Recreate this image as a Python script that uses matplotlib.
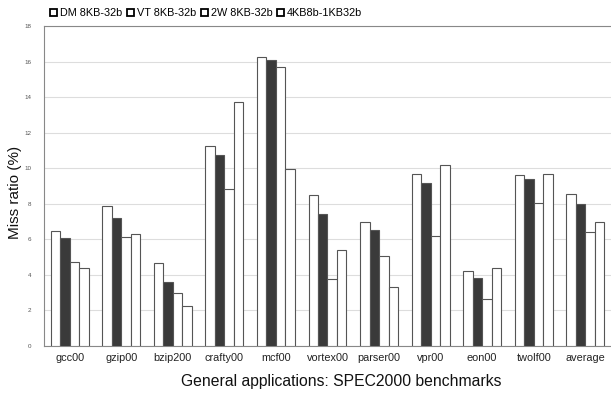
import matplotlib
matplotlib.use("Agg")
import matplotlib.pyplot as plt
import numpy as np
from matplotlib.patches import Patch

plt.rcParams['font.family'] = ['Liberation Sans', 'DejaVu Sans']

benchmarks = ["gcc00", "gzip00", "bzip200", "crafty00", "mcf00", "vortex00",
              "parser00", "vpr00", "eon00", "twolf00", "average"]
series_names = ["DM 8KB-32b", "VT 8KB-32b", "2W 8KB-32b", "4KB8b-1KB32b"]
dm = [6.47, 7.85, 4.65, 11.23, 16.25, 8.47, 6.95, 9.68, 4.19, 9.59, 8.54]
vt = [6.08, 7.20, 3.60, 10.76, 16.08, 7.40, 6.50, 9.16, 3.85, 9.38, 7.98]
w2 = [4.74, 6.14, 2.98, 8.82, 15.72, 3.74, 5.08, 6.19, 2.64, 8.04, 6.43]
kb4 = [4.37, 6.30, 2.24, 13.75, 9.98, 5.40, 3.31, 10.19, 4.39, 9.68, 6.97]
y_ticks = [0, 2, 4, 6, 8, 10, 12, 14, 16, 18]

fig = plt.figure(figsize=(6.11, 3.94), dpi=100)
ax = fig.add_axes([0.072, 0.122, 0.928, 0.812])

x = np.arange(len(benchmarks))
width = 0.184
faces = ["white", "#3a3a3a", "white", "white"]
edge = "#555555"
for i, vals in enumerate([dm, vt, w2, kb4]):
    ax.bar(x + (i - 1.5) * width, vals, width, color=faces[i],
           edgecolor=edge, linewidth=0.8, zorder=3)

ax.set_xlim(-0.5, len(benchmarks) - 0.5)
ax.set_ylim(0, 18)
ax.set_yticks(y_ticks)
ax.set_yticklabels([str(t) for t in y_ticks], fontsize=4.5, color="#555555")
ax.set_xticks(x)
ax.set_xticklabels(benchmarks, fontsize=7.8, color="#222222")
ax.tick_params(axis="both", length=0)
ax.tick_params(axis="x", pad=5)
ax.tick_params(axis="y", pad=9)

ax.yaxis.grid(True, color="#dddddd", linewidth=0.8, zorder=0)
ax.set_axisbelow(True)

for side in ["left", "top", "bottom"]:
    ax.spines[side].set_color("#888888")
    ax.spines[side].set_linewidth(0.8)
ax.spines["right"].set_visible(False)

ax.set_ylabel("Miss ratio (%)", fontsize=11, color="#111111")
ax.yaxis.set_label_coords(-0.038, 0.48)
ax.set_xlabel("General applications: SPEC2000 benchmarks", fontsize=11.3,
              color="#111111")
ax.xaxis.set_label_coords(0.524, -0.088)

handles = [Patch(facecolor="white", edgecolor="black", linewidth=1.3)
           for _ in series_names]
fig.legend(handles, series_names, loc="center left", bbox_to_anchor=(0.075, 0.967),
           ncol=4, frameon=False, fontsize=7.8, handlelength=0.65, handleheight=0.65,
           handletextpad=0.25, columnspacing=0.45, borderaxespad=0)

fig.savefig("out.png", dpi=100)
